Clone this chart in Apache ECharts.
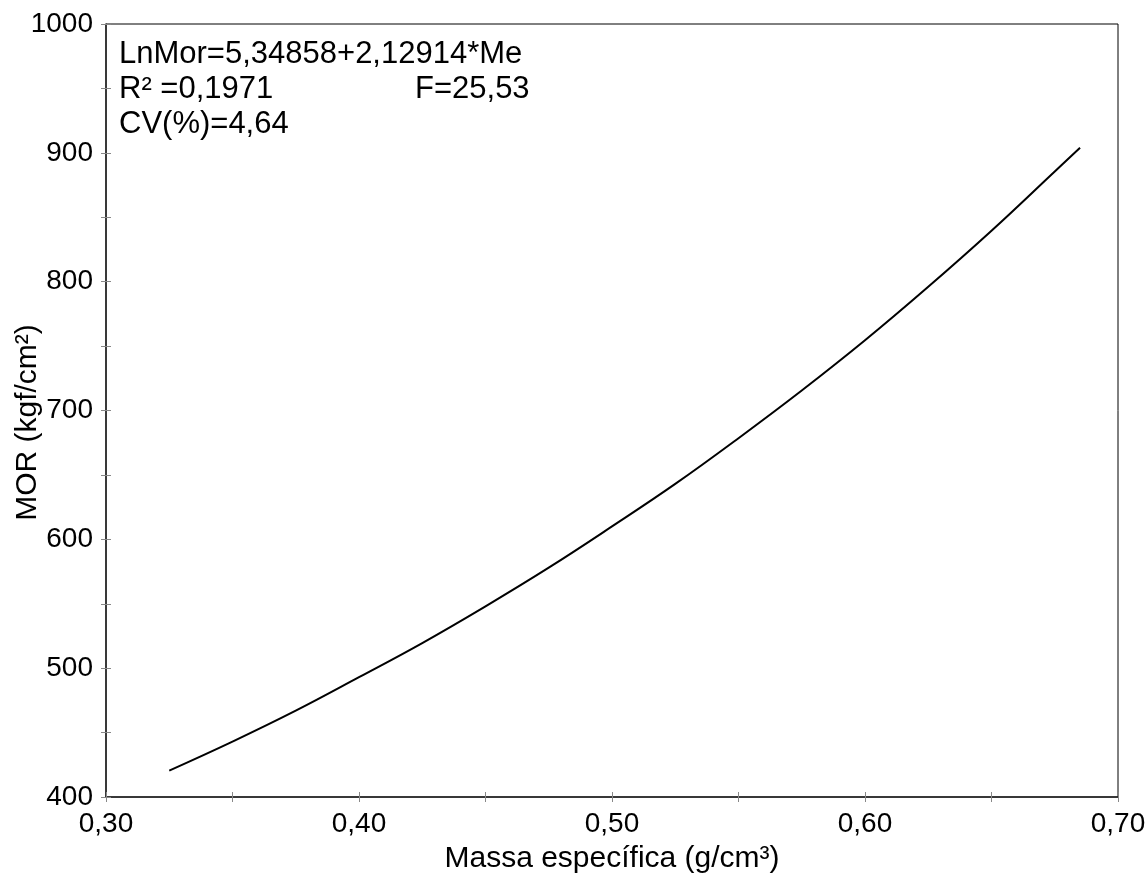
<!DOCTYPE html>
<html>
<head>
<meta charset="utf-8">
<script src="https://cdn.jsdelivr.net/npm/echarts@6/dist/echarts.min.js"></script>
<style>html,body{margin:0;padding:0;background:#fff;}#c{width:1146px;height:873px;}</style>
</head>
<body>
<div id="c"></div>
<script>
// Values
const massa = [0.325, 0.35, 0.375, 0.40, 0.425, 0.45, 0.475, 0.50, 0.525, 0.55, 0.575, 0.60, 0.625, 0.65, 0.675, 0.685];
const mor   = [420.5, 443, 467, 493, 519.5, 548, 578, 610, 643, 678.5, 715.5, 754.5, 796, 839.5, 885.5, 904];
const xTitle = 'Massa específica (g/cm³)';
const yTitle = 'MOR (kgf/cm²)';
const infoLines = ['LnMor=5,34858+2,12914*Me', 'R² =0,1971', 'CV(%)=4,64'];
const infoF = 'F=25,53';

const FONT = 'Liberation Sans, Arial, sans-serif';
const chart = echarts.init(document.getElementById('c'), null, {renderer: 'canvas'});
const tickStyle = {color: '#888', width: 1};
const lineStyleAxis = {color: '#222', width: 1.5};
const fmtX = v => v.toFixed(2).replace('.', ',');
const infoStyle = {fill: '#000', font: '31px ' + FONT, textVerticalAlign: 'middle', verticalAlign: 'middle'};

chart.setOption({
  animation: false,
  backgroundColor: '#fff',
  grid: {left: 106, right: 28, top: 24, bottom: 76, show: true, borderColor: '#000', borderWidth: 1,
         containLabel: false, outerBoundsMode: 'none'},
  xAxis: [{
    type: 'value', min: 0.3, max: 0.7, interval: 0.1,
    axisLine: {show: true, onZero: false, lineStyle: lineStyleAxis},
    axisTick: {show: true, inside: false, length: 5, lineStyle: tickStyle},
    minorTick: {show: true, splitNumber: 2, length: 5, lineStyle: tickStyle},
    splitLine: {show: false},
    axisLabel: {formatter: fmtX, color: '#000', fontSize: 28, fontFamily: FONT, margin: 13},
    name: xTitle, nameLocation: 'middle', nameGap: 47, nameMoveOverlap: false,
    nameTextStyle: {color: '#000', fontSize: 30, fontFamily: FONT}
  }, {
    type: 'value', min: 0.3, max: 0.7, interval: 0.1, position: 'bottom',
    axisLine: {show: false, onZero: false},
    axisTick: {show: true, inside: true, length: 5, lineStyle: tickStyle},
    minorTick: {show: true, splitNumber: 2, length: 5, lineStyle: tickStyle},
    splitLine: {show: false}, axisLabel: {show: false}
  }],
  yAxis: [{
    type: 'value', min: 400, max: 1000, interval: 100,
    axisLine: {show: true, onZero: false, lineStyle: lineStyleAxis},
    axisTick: {show: true, inside: false, length: 5, lineStyle: tickStyle},
    minorTick: {show: true, splitNumber: 2, length: 5, lineStyle: tickStyle},
    splitLine: {show: false},
    axisLabel: {formatter: v => String(v), color: '#000', fontSize: 28, fontFamily: FONT, margin: 13},
    name: yTitle, nameLocation: 'middle', nameGap: 63, nameRotate: 90, nameMoveOverlap: false,
    nameTextStyle: {color: '#000', fontSize: 30, fontFamily: FONT, padding: [0, 24, 0, 0]}
  }, {
    type: 'value', min: 400, max: 1000, interval: 100, position: 'left',
    axisLine: {show: false, onZero: false},
    axisTick: {show: true, inside: true, length: 5, lineStyle: tickStyle},
    minorTick: {show: true, splitNumber: 2, length: 5, lineStyle: tickStyle},
    splitLine: {show: false}, axisLabel: {show: false}
  }],
  series: [{
    type: 'line', xAxisIndex: 0, yAxisIndex: 0,
    data: massa.map((m, i) => [m, mor[i]]),
    smooth: 0.4, showSymbol: false,
    lineStyle: {color: '#000', width: 2}
  }],
  graphic: [
    {type: 'text', x: 119, y: 54, style: Object.assign({text: infoLines[0]}, infoStyle)},
    {type: 'text', x: 119, y: 89, style: Object.assign({text: infoLines[1]}, infoStyle)},
    {type: 'text', x: 415, y: 89, style: Object.assign({text: infoF}, infoStyle)},
    {type: 'text', x: 119, y: 124, style: Object.assign({text: infoLines[2]}, infoStyle)}
  ]
});
</script>
</body>
</html>
